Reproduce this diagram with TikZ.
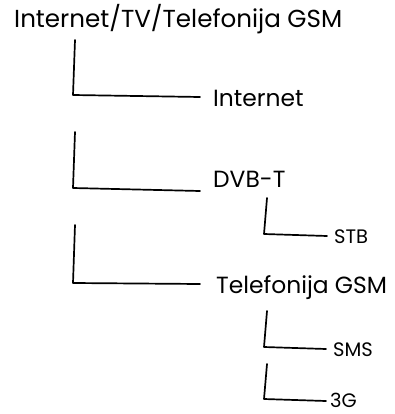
\documentclass[tikz,border=0pt]{standalone}
\usepackage{fontspec}
\setmainfont{Poppins}
\begin{document}
\begin{tikzpicture}[x=1pt,y=-1pt,
  title/.style={anchor=base west,inner sep=0pt,font=\fontsize{24.6}{28}\selectfont},
  big/.style={anchor=base west,inner sep=0pt,font=\fontsize{23.4}{27}\selectfont},
  small/.style={anchor=base west,inner sep=0pt,font=\fontsize{19.5}{22}\selectfont},
  link/.style={line width=1.7pt,line cap=round,line join=round}]
\useasboundingbox (0,0) rectangle (394,414);
\node[title] (root) at (14,28) {Internet/TV/Telefonija GSM};
\node[big] (inet) at (213,107) {Internet};
\node[big] (dvb) at (213,187) {DVB-T};
\node[big] (gsm) at (216,293) {Telefonija GSM};
\node[small] (stb) at (334,243) {STB};
\node[small] (sms) at (333,356) {SMS};
\node[small] (g3) at (330,407) {3G};
% free ends and corners
\coordinate (t1) at (75,40);  \coordinate (c1) at (73,95);  \coordinate (e1) at (200,97);
\coordinate (t2) at (75,132); \coordinate (c2) at (73,188); \coordinate (e2) at (200,191);
\coordinate (t3) at (75,225); \coordinate (c3) at (73,283); \coordinate (e3) at (200,284);
\coordinate (t4) at (267,198); \coordinate (c4) at (264,234); \coordinate (e4) at (327,236);
\coordinate (t5) at (267,311); \coordinate (c5) at (264,347); \coordinate (e5) at (326,349);
\coordinate (t6) at (267,364); \coordinate (c6) at (264,399); \coordinate (e6) at (326,401);
\draw[link] (t1) -- (c1) -- (e1);
\draw[link] (t2) -- (c2) -- (e2);
\draw[link] (t3) -- (c3) -- (e3);
\draw[link] (t4) -- (c4) -- (e4);
\draw[link] (t5) -- (c5) -- (e5);
\draw[link] (t6) -- (c6) -- (e6);
\end{tikzpicture}
\end{document}
